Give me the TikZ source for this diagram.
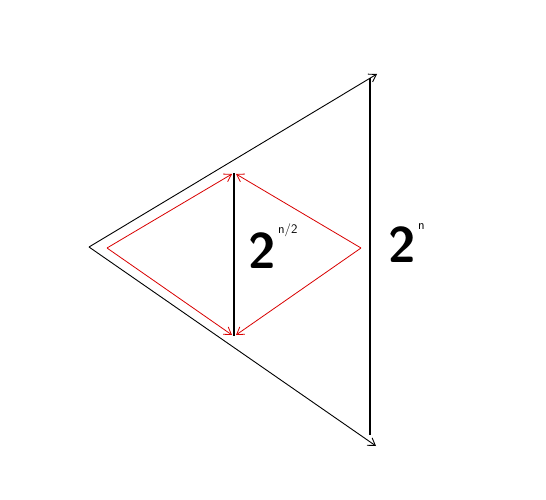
\documentclass[tikz,border=0pt]{standalone}
\usetikzlibrary{arrows.meta}
\tikzset{
  thinblack/.style={draw=black, line width=0.9pt, -{Straight Barb[length=7pt,width=9pt]}},
  thickblack/.style={draw=black, line width=1.8pt},
  redarrow/.style={draw=red!85!black, line width=0.8pt, -{Straight Barb[length=7pt,width=9pt]}},
  lbl/.style={font=\sffamily\bfseries\fontsize{50}{50}\selectfont, inner sep=0pt},
  sup/.style={font=\sffamily\fontsize{13}{13}\selectfont, inner sep=0pt}
}
\begin{document}
\begin{tikzpicture}[x=1pt,y=-1pt]
\useasboundingbox[fill=white] (0,0) rectangle (546,500);
\coordinate (L) at (89,247);
\coordinate (T) at (377,74);
\coordinate (B) at (376,446);
\coordinate (VT) at (370,78);
\coordinate (VB) at (370,435);
\coordinate (IT) at (234,173);
\coordinate (IB) at (234,336);
\coordinate (RL) at (107,248);
\coordinate (RR) at (361,248);
\coordinate (RTL) at (232,174);
\coordinate (RTR) at (236,174);
\coordinate (RBL) at (232,335);
\coordinate (RBR) at (236,335);
\draw[thinblack] (L) -- (T);
\draw[thinblack] (L) -- (B);
\draw[thickblack] (VT) -- (VB);
\draw[thickblack] (IT) -- (IB);
\draw[redarrow] (RL) -- (RTL);
\draw[redarrow] (RL) -- (RBL);
\draw[redarrow] (RR) -- (RTR);
\draw[redarrow] (RR) -- (RBR);
\node[lbl, anchor=base] (two1) at (262,268) {2};
\node[sup, anchor=base west] (exp1) at (278,233) {n/2};
\node[lbl, anchor=base] (two2) at (402,262) {2};
\node[sup, anchor=base west] (exp2) at (418,229) {n};
\end{tikzpicture}
\end{document}
